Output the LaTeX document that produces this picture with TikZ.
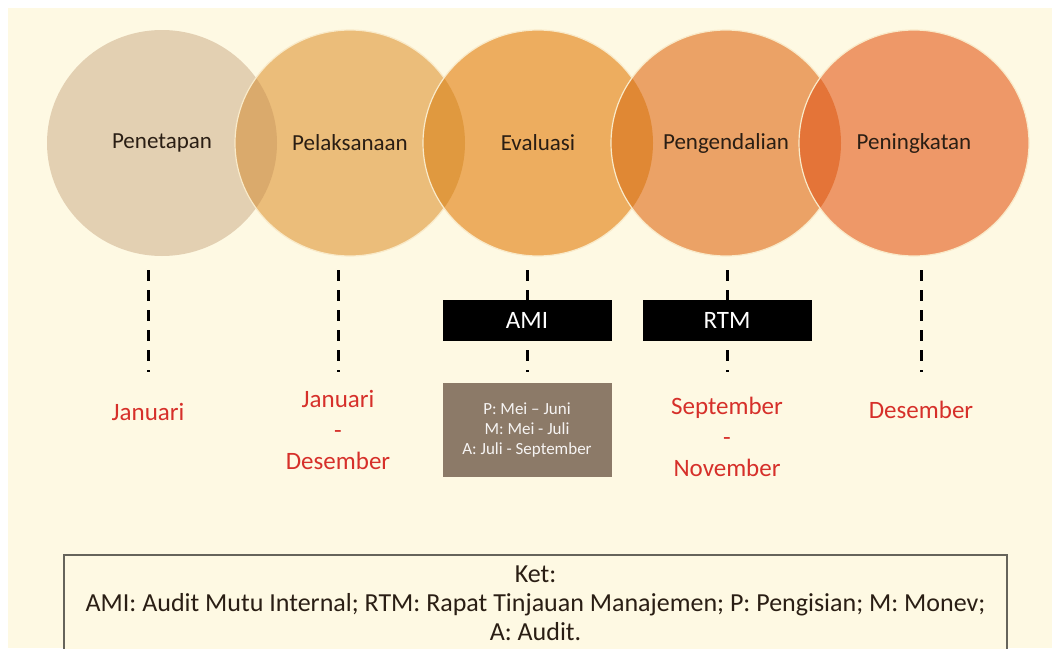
\documentclass[tikz,border=0pt]{standalone}
\usepackage{fontspec}
\setmainfont{Carlito}
\usepackage{xcolor}
\usetikzlibrary{%
	positioning,%
	backgrounds,calc
}
\definecolor{krem}{HTML}{FEF9E3}
\definecolor{lingA}{HTML}{E3D0B2}
\definecolor{lingB}{HTML}{EBBD7A}
\definecolor{lingC}{HTML}{EDAD5F}
\definecolor{lingD}{HTML}{EBA266}
\definecolor{lingE}{HTML}{EE9868}
\definecolor{irisA}{HTML}{DAAA6C}
\definecolor{irisB}{HTML}{E0993F}
\definecolor{irisC}{HTML}{E08834}
\definecolor{irisD}{HTML}{E47438}
\definecolor{merah}{HTML}{D6302A}
\definecolor{abu}{HTML}{8C7A68}
\definecolor{teksgelap}{HTML}{2A1E14}
\tikzset{
	judul/.style={text=teksgelap,font=\fontsize{23}{28}\selectfont},
	bulan/.style={text=merah,align=center,font=\fontsize{25}{31}\selectfont},
	kotakhitam/.style={fill=black,text=white,minimum width=169pt,minimum height=41pt,inner sep=0pt,font=\fontsize{25}{30}\selectfont},
	kotakabu/.style={fill=abu,text=white!92!abu,align=center,minimum width=169pt,minimum height=94pt,inner sep=0pt,font=\fontsize{17}{20}\selectfont},
	garis/.style={line width=3pt,dash pattern=on 11pt off 9pt},
	tepi/.style={draw=krem!75!lingB,line width=1.2pt},
	bulat/.style={x radius=115,y radius=113}
}

\begin{document}
\begin{tikzpicture}[x=1pt,y=-1pt]
	\useasboundingbox (0,0) rectangle (1052,648);
	\clip (0,0) rectangle (1052,648);
	\fill[white] (0,0) rectangle (1052,648);
	\fill[krem] (8,8) rectangle (1052,648);
	% lingkaran
	\fill[lingA] (162,143) ellipse [bulat];
	\foreach \c/\w/\l in {350/lingB/irisA,538/lingC/irisB,726/lingD/irisC,914/lingE/irisD}
	{\fill[\w] (\c,143) ellipse [bulat];
		\begin{scope}
			\clip (\c-188,143) ellipse [bulat];
			\fill[\l] (\c,143) ellipse [bulat];
		\end{scope}
		\draw[tepi] (\c,143) ellipse [bulat];}
	\node[judul] (penetapan) at (162,143) {Penetapan};
	\node[judul] (pelaksanaan) at (350,143) {Pelaksanaan};
	\node[judul] (evaluasi) at (538,143) {Evaluasi};
	\node[judul] (pengendalian) at (726,143) {Pengendalian};
	\node[judul] (peningkatan) at (914,143) {Peningkatan};
	% garis putus
	\foreach \X [count=\n] in {148,338,527,727,921}
	{\coordinate (atas-\n) at (\X,270);
		\coordinate (bawah-\n) at (\X,372);
		\draw[garis] (atas-\n) -- (bawah-\n);}
	\node[kotakhitam] (ami) at (527,320.5) {AMI};
	\node[kotakhitam] (rtm) at (727,320.5) {RTM};
	\node[kotakabu] (jadwal) at (527,430) {P: Mei -- Juni\\M: Mei - Juli\\A: Juli - September};
	\node[bulan] (januari) at (148,412) {Januari};
	\node[bulan] (janDes) at (338,430) {Januari\\-\\Desember};
	\node[bulan] (sepNov) at (727,437) {September\\-\\November};
	\node[bulan] (desember) at (921,410) {Desember};
	% keterangan
	\draw[draw=black!60!krem,line width=1.5pt,fill=krem] (64,555) rectangle (1007,680);
	\node[align=center,text=teksgelap,font=\fontsize{26}{29}\selectfont] (ket) at (535.5,603)
	{Ket:\\AMI: Audit Mutu Internal; RTM: Rapat Tinjauan Manajemen; P: Pengisian; M: Monev;\\A: Audit.};
\end{tikzpicture}
\end{document}
